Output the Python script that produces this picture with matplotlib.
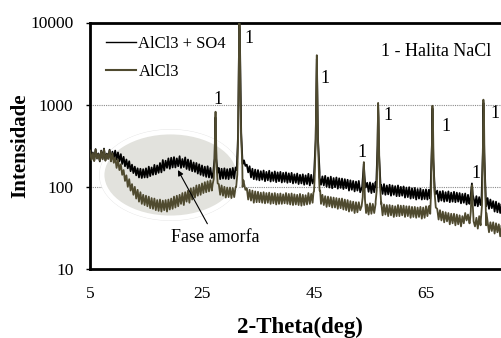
import numpy as np
import matplotlib
matplotlib.use('Agg')
import matplotlib.pyplot as plt
from matplotlib.patches import Ellipse
from matplotlib.lines import Line2D

plt.rcParams['font.family'] = ['Liberation Serif', 'DejaVu Serif']

# 2-theta grid of the background readings (deg), one value every 0.25 deg
two_theta = np.arange(5.0, 80.01, 0.25)

# AlCl3 + SO4 background (noisy band), 5 deg per row
black_bg = [
    280, 215, 262, 208, 288, 224, 255, 204, 276, 220, 292, 210, 254, 222, 283, 206, 268, 226, 276, 214,
    262, 205, 250, 190, 232, 178, 215, 168, 205, 155, 186, 147, 176, 138, 168, 130, 166, 128, 164, 130,
    168, 130, 176, 135, 172, 140, 185, 142, 182, 148, 195, 150, 212, 158, 208, 170, 222, 166, 226, 172,
    230, 172, 222, 178, 236, 170, 218, 174, 228, 165, 215, 160, 210, 155, 198, 152, 195, 145, 188, 140,
    182, 136, 176, 132, 178, 130, 170, 128, 172, 126, 168, 128, 170, 124, 166, 126, 168, 125, 164, 124,
    166, 128, 170, 126, 172, 130, 175, 140, 200, 190, 210, 180, 186, 150, 178, 130, 166, 124, 162, 122,
    160, 120, 155, 122, 158, 117, 152, 120, 157, 116, 150, 118, 154, 114, 150, 117, 152, 113, 148, 115,
    150, 112, 146, 114, 148, 110, 142, 112, 145, 108, 140, 110, 142, 106, 138, 108, 144, 104, 140, 110,
    138, 112, 140, 120, 150, 106, 134, 104, 136, 100, 130, 98, 133, 96, 128, 99, 130, 95, 127, 97,
    126, 94, 124, 96, 122, 90, 120, 92, 118, 88, 116, 90, 118, 86, 114, 88, 115, 85, 112, 87,
    113, 84, 110, 86, 115, 85, 112, 90, 105, 82, 108, 80, 104, 81, 106, 78, 104, 80, 102, 77,
    104, 77, 100, 78, 101, 74, 98, 75, 99, 72, 96, 73, 97, 70, 94, 72, 95, 70, 92, 71,
    93, 70, 92, 72, 100, 80, 95, 82, 90, 66, 88, 68, 89, 66, 86, 67, 88, 65, 85, 66,
    87, 65, 85, 66, 84, 63, 82, 64, 83, 61, 80, 62, 79, 60, 78, 59, 77, 58, 75, 60,
    76, 57, 74, 58, 73, 54, 70, 55, 67, 50, 66, 49, 63, 48, 62, 46, 61, 45, 58, 46,
    55]

# AlCl3 background
olive_bg = [
    276, 212, 258, 206, 284, 220, 250, 208, 272, 216, 286, 208, 250, 218, 278, 204, 256, 196, 225, 170,
    215, 160, 188, 140, 160, 118, 138, 100, 124, 90, 108, 80, 100, 72, 92, 66, 86, 62, 80, 60,
    78, 58, 76, 55, 73, 54, 72, 52, 69, 51, 70, 50, 68, 52, 69, 50, 70, 53, 72, 54,
    76, 56, 78, 58, 80, 62, 84, 60, 86, 66, 90, 64, 96, 70, 98, 74, 104, 78, 106, 80,
    110, 84, 114, 86, 117, 88, 120, 90, 118, 92, 112, 86, 108, 80, 104, 78, 100, 74, 98, 75,
    98, 73, 97, 75, 100, 77, 102, 80, 105, 100, 110, 92, 96, 70, 92, 68, 90, 64, 88, 65,
    87, 65, 85, 64, 86, 63, 84, 64, 85, 62, 83, 63, 84, 61, 82, 62, 83, 62, 81, 63,
    84, 62, 82, 61, 83, 60, 81, 61, 80, 60, 82, 59, 80, 60, 79, 61, 84, 62, 82, 64,
    88, 68, 90, 70, 90, 62, 80, 60, 77, 57, 76, 58, 75, 56, 74, 56, 73, 54, 72, 55,
    72, 53, 70, 52, 69, 50, 67, 51, 66, 48, 65, 49, 65, 52, 63, 50, 62, 45, 61, 46,
    63, 47, 62, 48, 66, 50, 64, 52, 62, 45, 61, 46, 60, 44, 60, 45, 59, 43, 58, 44,
    60, 44, 59, 45, 59, 43, 58, 44, 58, 42, 57, 43, 57, 42, 56, 43, 57, 41, 56, 42,
    58, 44, 58, 47, 66, 54, 62, 56, 54, 40, 52, 39, 50, 37, 49, 38, 48, 35, 47, 36,
    47, 34, 46, 35, 45, 33, 44, 36, 48, 39, 46, 36, 44, 32, 43, 33, 42, 31, 44, 34,
    47, 37, 44, 34, 38, 28, 37, 29, 37, 27, 36, 28, 35, 25, 34, 27, 34, 24, 33, 25,
    30]

# Halite (NaCl) reflections
peak_pos = [27.4, 31.7, 45.5, 53.9, 56.5, 66.2, 73.2, 75.3]

olive_pk_x = [26.9, 27.1, 27.25, 27.35, 27.42, 27.5, 27.6, 27.8,
              31.1, 31.3, 31.45, 31.55, 31.65, 31.75, 31.85, 32.0, 32.2, 32.4,
              44.9, 45.1, 45.3, 45.42, 45.5, 45.58, 45.7, 45.9, 46.1,
              53.5, 53.7, 53.82, 53.9, 53.98, 54.1, 54.3,
              56.0, 56.2, 56.35, 56.45, 56.55, 56.65, 56.8, 57.0,
              65.7, 65.9, 66.05, 66.15, 66.25, 66.35, 66.5, 66.7,
              72.8, 73.0, 73.15, 73.25, 73.35, 73.5,
              74.8, 75.0, 75.15, 75.25, 75.35, 75.45, 75.6, 75.8]
olive_pk_y = [108, 125, 220, 600, 820, 450, 180, 110,
              100, 140, 400, 1800, 11000, 9000, 1500, 400, 180, 120,
              85, 120, 350, 1500, 4000, 1800, 400, 130, 90,
              58, 75, 140, 200, 140, 70, 48,
              62, 90, 300, 1050, 700, 220, 100, 65,
              58, 85, 300, 970, 600, 200, 90, 60,
              36, 50, 100, 105, 60, 38,
              40, 60, 250, 1150, 800, 200, 80, 48]

black_pk_x = [27.0, 27.25, 27.4, 27.55, 27.8,
              31.2, 31.45, 31.65, 31.75, 32.0, 32.3,
              45.0, 45.3, 45.5, 45.7, 46.0,
              53.6, 53.8, 53.9, 54.0, 54.2,
              56.1, 56.35, 56.45, 56.6, 56.9,
              65.8, 66.05, 66.15, 66.3, 66.6,
              72.9, 73.1, 73.2, 73.35, 73.6,
              74.9, 75.15, 75.25, 75.4, 75.7]
black_pk_y = [150, 220, 700, 220, 148,
              160, 450, 9500, 8000, 450, 190,
              125, 380, 3600, 400, 130,
              100, 150, 190, 140, 98,
              100, 320, 950, 260, 100,
              84, 320, 900, 220, 82,
              70, 95, 110, 80, 68,
              66, 260, 1050, 260, 64]


def merge(bg, pk_x, pk_y):
    bg = np.asarray(bg, float)
    dist = np.min(np.abs(two_theta[:, None] - np.array(peak_pos)[None, :]), axis=1)
    keep = dist > 0.45
    x = np.concatenate([two_theta[keep], pk_x])
    y = np.concatenate([bg[keep], pk_y])
    order = np.argsort(x)
    return x[order], y[order]


xb, yb = merge(black_bg, black_pk_x, black_pk_y)
xo, yo = merge(olive_bg, olive_pk_x, olive_pk_y)

c_black = '#000000'
c_olive = '#4f4a2f'

fig = plt.figure(figsize=(5.02, 3.38), dpi=100)
W, H = 502, 338
ax = fig.add_axes([90 / W, 1 - 269 / H, 448 / W, 246.5 / H])

# highlighted amorphous region
ax.add_patch(Ellipse((170.5 / W, 1 - 175 / H), 141 / W, 90 / H, transform=fig.transFigure,
                     facecolor='none', edgecolor='#e4e4e4', lw=1.2, zorder=1.6))
ax.add_patch(Ellipse((170.5 / W, 1 - 175 / H), 137 / W, 86 / H, transform=fig.transFigure,
                     facecolor='#e2e2dd', edgecolor='white', lw=3.5, zorder=1.7))

ax.plot(xb, yb, color=c_black, lw=1.3, zorder=2)
ax.plot(xo, yo, color=c_olive, lw=1.3, zorder=3)

ax.set_yscale('log')
ax.set_xlim(5, 85)
ax.set_ylim(10, 10000)
ax.set_xticks([5, 25, 45, 65])
ax.set_yticks([10, 100, 1000, 10000])
ax.set_yticklabels(['10', '100', '1000', '10000'])
ax.minorticks_off()
ax.tick_params(axis='x', length=0, pad=12, labelsize=12.5)
ax.tick_params(axis='y', length=3, width=1, pad=9, labelsize=12.5, direction='out')
ax.yaxis.grid(True, which='major', linestyle=(0, (1, 1)), color='#8a8a8a', lw=0.8)
ax.set_axisbelow('line')

for s in ['left', 'bottom', 'top', 'right']:
    ax.spines[s].set_linewidth(2)
    ax.spines[s].set_color('black')

ax.set_xlabel('2-Theta(deg)', fontsize=16.5, fontweight='bold')
ax.xaxis.set_label_coords((300 - 90) / 448, -(327 - 269) / 246.5)
ax.xaxis.label.set_va('center')
ax.set_ylabel('Intensidade', fontsize=15, fontweight='bold')
ax.yaxis.set_label_coords((20 - 90) / 448, 0.5)
ax.yaxis.label.set_va('center')

handles = [Line2D([], [], color=c_black, lw=1.0), Line2D([], [], color=c_olive, lw=1.5)]
ax.legend(handles, ['AlCl3 + SO4', 'AlCl3'], loc='upper left', frameon=False,
          bbox_to_anchor=(106 / W, 1 - 36 / H), bbox_transform=fig.transFigure,
          fontsize=12, handlelength=1.8, handletextpad=0.15, labelspacing=0.72,
          borderpad=0, borderaxespad=0)

ax.text(66.8, 4490, '1 - Halita NaCl', fontsize=13, ha='center', va='center')

# peak labels
lab_x = [33.4, 47.0, 27.86, 53.57, 58.2, 68.6, 73.93, 77.3]
lab_y = [6470, 2100, 1167, 264, 745, 547, 146, 787]
for lx, ly in zip(lab_x, lab_y):
    ax.text(lx, ly, '1', fontsize=13, ha='center', va='center')

ax.annotate('Fase amorfa', xy=(20.7, 160), xytext=(27.3, 24.2), fontsize=13,
            ha='center', va='center', zorder=5,
            arrowprops=dict(arrowstyle='-|>', color='black', lw=0.8,
                            mutation_scale=8, shrinkA=2, shrinkB=0))

fig.savefig('out.png', dpi=100)
